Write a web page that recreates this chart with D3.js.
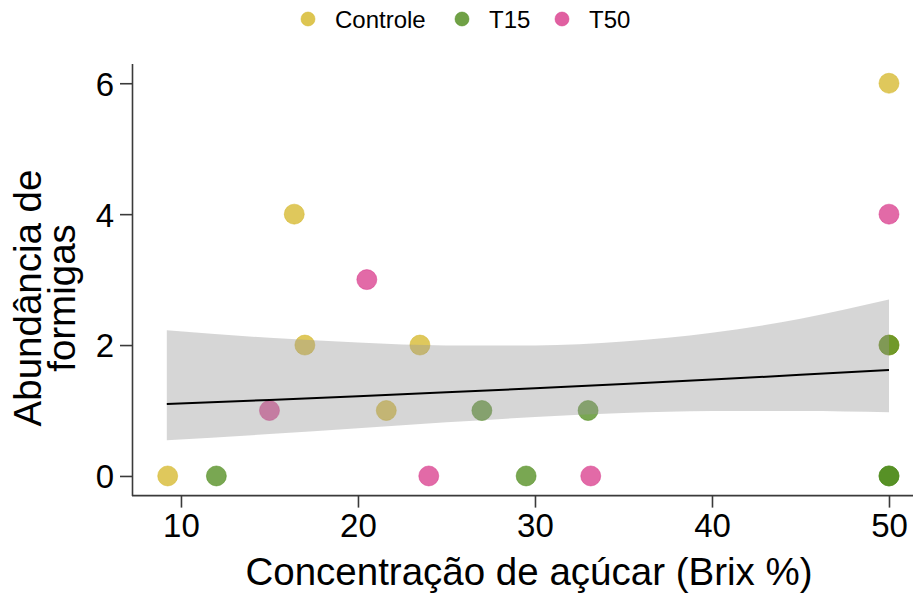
<!DOCTYPE html>
<html>
<head>
<meta charset="utf-8">
<script src="https://cdn.jsdelivr.net/npm/d3@7"></script>
<style>
  html, body { margin: 0; padding: 0; background: #ffffff; }
  svg { display: block; font-family: "Liberation Sans", Arial, sans-serif; }
</style>
</head>
<body>
<svg id="chart" width="913" height="594"></svg>
<script>
// Observations per treatment: sugar concentration (Brix %) and ant abundance
const groups = ["Controle", "T15", "T50"];
const groupColors = ["#d4b626", "#4c8a18", "#d8388a"];

const controleBrix = [9.25, 16.4, 17.0, 21.6, 23.5, 50, 50];
const controleAnts = [0, 4, 2, 1, 2, 6, 2];
const t15Brix = [12.0, 27.0, 29.5, 33.0, 50, 50, 50];
const t15Ants = [0, 1, 0, 1, 2, 0, 0];
const t50Brix = [15.0, 20.5, 24.0, 33.15, 50];
const t50Ants = [1, 3, 0, 0, 4];

// Fitted trend (Poisson GLM) with its 95% confidence band
const fitBrix = [9.2, 15, 20, 25, 30, 35, 40, 45, 50];
const fitAnts = [1.100, 1.162, 1.219, 1.278, 1.340, 1.405, 1.473, 1.545, 1.620];
const fitLower = [0.544, 0.640, 0.729, 0.819, 0.901, 0.961, 0.992, 0.994, 0.973];
const fitUpper = [2.225, 2.111, 2.038, 1.994, 1.994, 2.054, 2.187, 2.403, 2.697];

const xTicks = [10, 20, 30, 40, 50];
const yTicks = [0, 2, 4, 6];

const points = [
  ...controleBrix.map((b, i) => ({ g: "Controle", x: b, y: controleAnts[i] })),
  ...t15Brix.map((b, i) => ({ g: "T15", x: b, y: t15Ants[i] })),
  ...t50Brix.map((b, i) => ({ g: "T50", x: b, y: t50Ants[i] }))
];
const band = fitBrix.map((b, i) => ({ x: b, fit: fitAnts[i], lo: fitLower[i], hi: fitUpper[i] }));

const svg = d3.select("#chart");

const x = d3.scaleLinear().domain([7.16, 52.04]).range([130.7, 925.1]);
const y = d3.scaleLinear().domain([-0.3, 6.3]).range([495.6, 63.6]);
const color = d3.scaleOrdinal().domain(groups).range(groupColors);

// Points (drawn first; the smoother layer sits on top of them)
svg.append("g").selectAll("circle")
  .data(points)
  .join("circle")
  .attr("cx", d => x(d.x))
  .attr("cy", d => y(d.y))
  .attr("r", 10)
  .attr("fill", d => color(d.g))
  .attr("fill-opacity", 0.75)
  .attr("stroke", d => color(d.g))
  .attr("stroke-opacity", 0.5)
  .attr("stroke-width", 1);

// Confidence band, semi-transparent
svg.append("path")
  .datum(band)
  .attr("fill", "#999999")
  .attr("fill-opacity", 0.4)
  .attr("d", d3.area().curve(d3.curveMonotoneX)
    .x(d => x(d.x)).y0(d => y(d.lo)).y1(d => y(d.hi)));

// Fitted line
svg.append("path")
  .datum(band)
  .attr("fill", "none")
  .attr("stroke", "#000")
  .attr("stroke-width", 2)
  .attr("d", d3.line().curve(d3.curveMonotoneX).x(d => x(d.x)).y(d => y(d.fit)));

// Axes
const axisColor = "#3a3a3a";
const x0 = x(7.16) + 1.3;
const xAxis = svg.append("g")
  .attr("transform", `translate(0,${y(-0.3)})`)
  .call(d3.axisBottom(x).tickValues(xTicks).tickSize(12).tickSizeOuter(0).tickPadding(6).tickFormat(d3.format("d")));
const yAxis = svg.append("g")
  .attr("transform", `translate(${x0},0)`)
  .call(d3.axisLeft(y).tickValues(yTicks).tickSize(12).tickSizeOuter(0).tickPadding(6).tickFormat(d3.format("d")));

xAxis.select(".domain").attr("d", `M${x0},0H913`);

[xAxis, yAxis].forEach(a => {
  a.select(".domain").attr("stroke", axisColor).attr("stroke-width", 1.6);
  a.selectAll(".tick line").attr("stroke", axisColor).attr("stroke-width", 1.6);
  a.selectAll(".tick text").attr("fill", "#000").style("font-size", "33px")
    .style("font-family", "'Liberation Sans', Arial, sans-serif");
});
yAxis.selectAll(".tick text").attr("dy", "0.36em");

// Axis titles
svg.append("text")
  .attr("x", 529).attr("y", 585)
  .attr("text-anchor", "middle")
  .style("font-size", "38.5px")
  .text("Concentração de açúcar (Brix %)");

const yTitle = svg.append("text")
  .attr("transform", "translate(41,298) rotate(-90)")
  .attr("text-anchor", "middle")
  .style("font-size", "38.5px");
yTitle.append("tspan").attr("x", 0).attr("dy", 0).text("Abundância de");
yTitle.append("tspan").attr("x", 0).attr("dy", 34).text("formigas");

// Legend
const legendX = [308, 462, 562];
const legend = svg.append("g");
groups.forEach((g, i) => {
  legend.append("circle")
    .attr("cx", legendX[i]).attr("cy", 19).attr("r", 7)
    .attr("fill", color(g)).attr("fill-opacity", 0.8)
    .attr("stroke", color(g)).attr("stroke-opacity", 0.5);
  legend.append("text")
    .attr("x", legendX[i] + 27).attr("y", 27.5)
    .style("font-size", "24px")
    .text(g);
});
</script>
</body>
</html>
